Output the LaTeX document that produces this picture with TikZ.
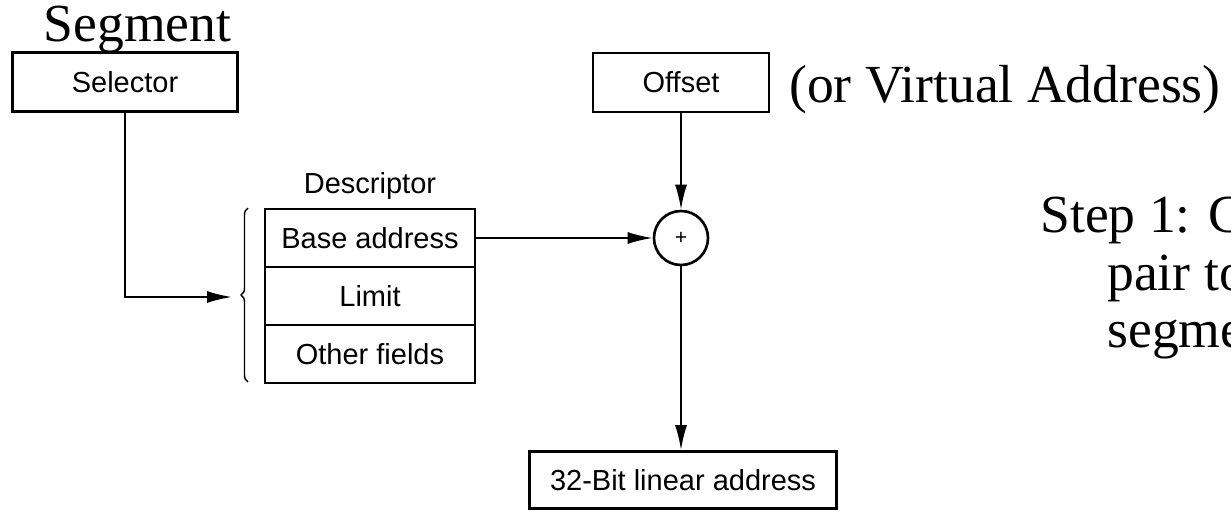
\documentclass[tikz,border=0pt]{standalone}
\usepackage{fontspec}
\setmainfont{Liberation Sans}
\newfontfamily\bigserif{Liberation Serif}
\usepackage{tikz}
\usetikzlibrary{arrows.meta, decorations.pathreplacing}

\begin{document}
\begin{tikzpicture}[
    >={Latex[length=0.5cm, width=0.24cm]},
    field/.style={draw, line width=1.5pt, rectangle, minimum width=4.2cm, minimum height=1.17cm, font=\fontsize{16.5}{20}\selectfont},
    caption/.style={inner sep=0pt, font=\bigserif\fontsize{30.5}{36}\selectfont},
    link/.style={line width=1.1pt}
]
    \clip (0, 0) rectangle (24.62, -10.22);

    \node[caption, anchor=base] at (2.75, -0.84) (seglabel) {Segment};
    \node[field, minimum width=4.5cm, minimum height=1.18cm] at (2.5, -1.64) (selector) {Selector};
    \node[field, minimum width=3.52cm, minimum height=1.18cm] at (13.62, -1.65) (offset) {Offset};
    \node[caption, anchor=base east] at (24.42, -2.05) (virtual) {(or Virtual Address)};

    \node[font=\fontsize{16.5}{20}\selectfont] at (7.4, -3.72) (desclabel) {Descriptor};
    \node[field, minimum height=1.16cm] at (7.4, -4.76) (base) {Base address};
    \node[field, minimum height=1.16cm] at (7.4, -5.92) (limit) {Limit};
    \node[field, minimum height=1.16cm] at (7.4, -7.08) (other) {Other fields};

    \node[draw, circle, line width=1.5pt, minimum size=1.08cm, inner sep=0pt, font=\fontsize{12}{14}\selectfont] at (13.62, -4.76) (adder) {+};
    \node[field, minimum width=6.14cm, minimum height=1.14cm] at (13.66, -9.6) (linear) {32-Bit linear address};

    \node[caption, anchor=base west] at (20.8, -4.64) (stepa) {Step 1: C};
    \node[caption, anchor=base west] at (22.14, -5.8) (stepb) {pair to};
    \node[caption, anchor=base west] at (22.14, -6.94) (stepc) {segme};

    \draw[decorate, decoration={brace, amplitude=0.14cm}, line width=0.8pt] (4.96, -7.64) -- (4.96, -4.16);
    \coordinate (seltip) at (4.64, -5.94);

    \draw[link, ->] (selector.south) |- (seltip);
    \draw[link, ->] (base.east) -- (adder.west);
    \draw[link, ->] (offset.south) -- (adder.north);
    \draw[link, ->] (adder.south) -- (adder.south |- linear.north);
\end{tikzpicture}
\end{document}
